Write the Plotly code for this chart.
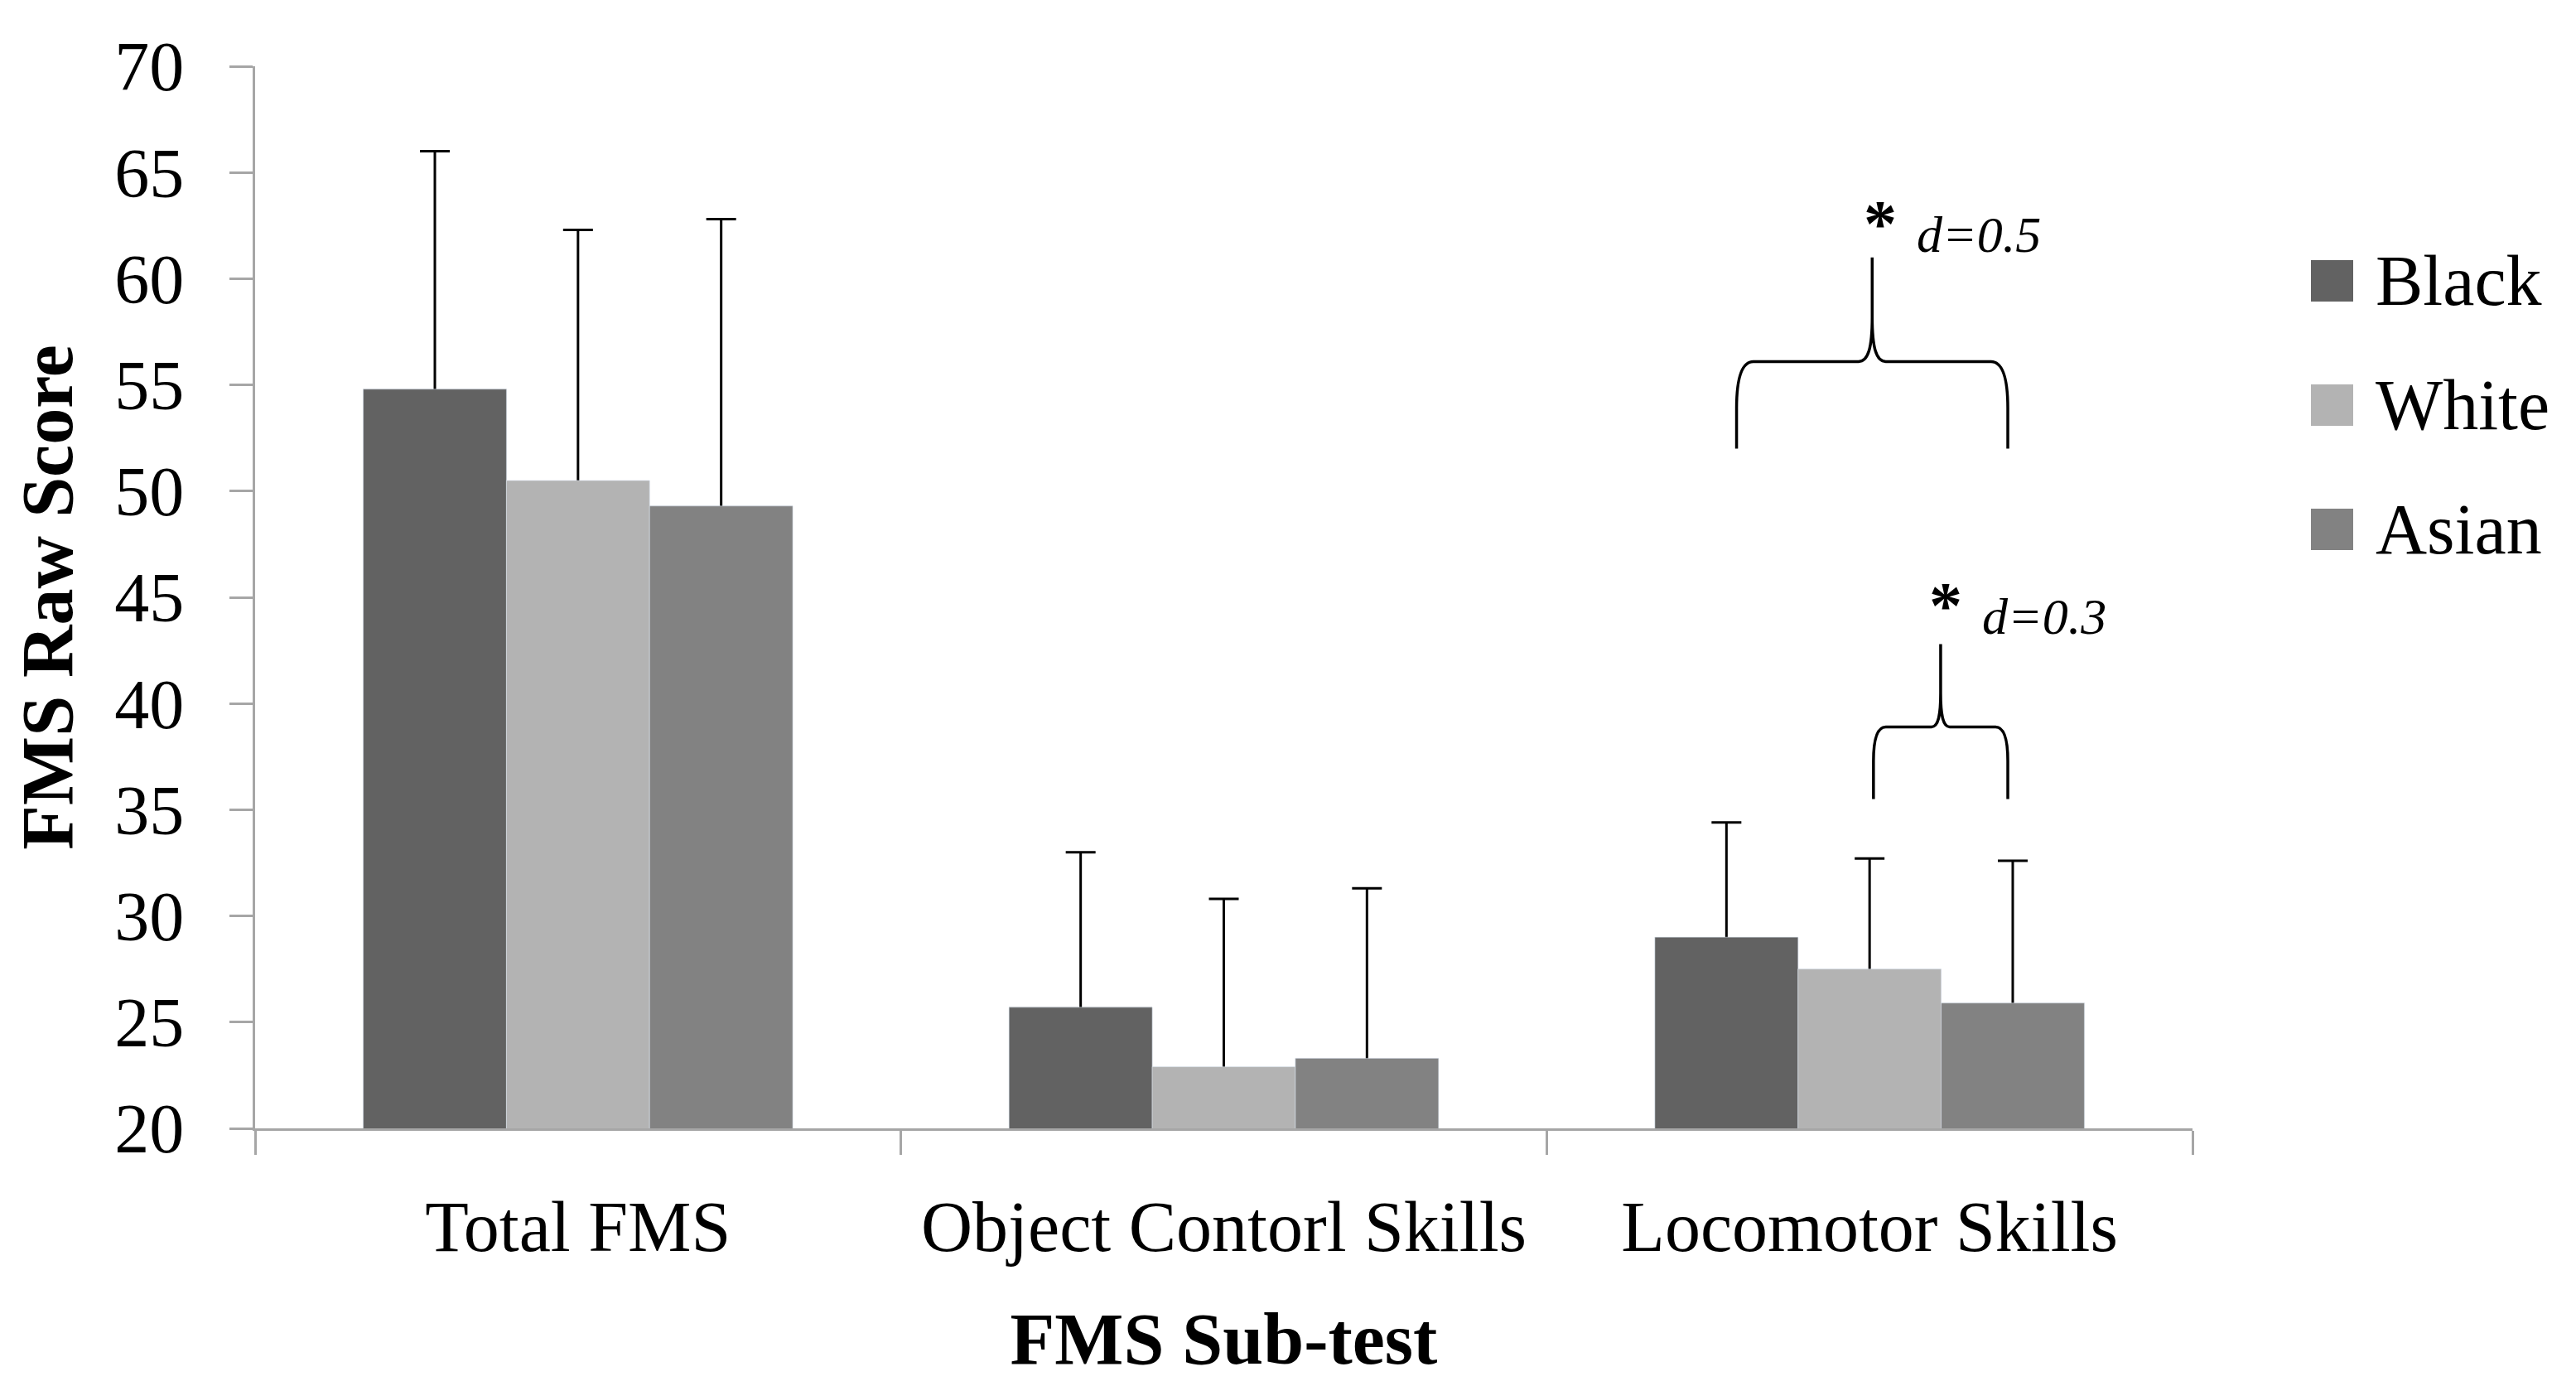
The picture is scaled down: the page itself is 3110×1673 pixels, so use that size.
import plotly.graph_objects as go

categories = ["Total FMS", "Object Contorl Skills", "Locomotor Skills"]
groups = ["Black", "White", "Asian"]
colors = ["#626262", "#b3b3b3", "#828282"]

black_mean = [54.8, 25.7, 29.0]
white_mean = [50.5, 22.9, 27.5]
asian_mean = [49.3, 23.3, 25.9]
black_sd = [11.2, 7.3, 5.4]
white_sd = [11.8, 7.9, 5.2]
asian_sd = [13.5, 8.0, 6.7]

means = [black_mean, white_mean, asian_mean]
sds = [black_sd, white_sd, asian_sd]

FONT = "Liberation Serif"
# page body has an 8px margin, so the figure is a bit smaller than the window
OFF = 8
W, H = 3094, 1657
PX0, PX1, PY0, PY1 = 308, 2647, 80, 1362  # plot area in window pixels
L, T = PX0 - OFF, PY0 - OFF
R, B = W - (PX1 - OFF), H - (PY1 - OFF)

fig = go.Figure()

# bars with upward error bars on the lower subplot; the same bars are drawn again
# on an overlaying axis so the lower half of each error bar is hidden
for name, col, m, s in zip(groups, colors, means, sds):
    fig.add_trace(go.Bar(
        x=categories, y=m, name=name, marker_color=col, showlegend=False,
        error_y=dict(type="data", symmetric=False, array=s,
                     arrayminus=[1] * len(s), color="black",
                     thickness=3, width=18),
    ))
for name, col, m in zip(groups, colors, means):
    fig.add_trace(go.Bar(
        x=categories, y=m, name=name, marker_color=col, showlegend=False,
        yaxis="y2", hoverinfo="skip",
    ))


def px2paper(xp, yp):
    return (xp - PX0) / (PX1 - PX0), (PY1 - yp) / (PY1 - PY0)


def brace(xl, xr, yb, yh, yt, cdx, cdy, kdx, kdy):
    xc = (xl + xr) / 2
    return (
        f"M{xl},{yb} L{xl},{yh - cdy} "
        f"C{xl},{yh - cdy * 0.35} {xl + cdx * 0.3},{yh} {xl + cdx},{yh} "
        f"L{xc - kdx},{yh} "
        f"C{xc - kdx * 0.3},{yh} {xc},{yh + kdy * 0.3} {xc},{yh + kdy} "
        f"L{xc},{yt} M{xc},{yh + kdy} "
        f"C{xc},{yh + kdy * 0.3} {xc + kdx * 0.3},{yh} {xc + kdx},{yh} "
        f"L{xr - cdx},{yh} "
        f"C{xr - cdx * 0.3},{yh} {xr},{yh - cdy * 0.35} {xr},{yh - cdy} "
        f"L{xr},{yb}"
    )


shapes = [
    dict(type="path", xref="x", yref="y",
         path=brace(2 - 0.206, 2 + 0.214, 52.0, 56.1, 61.0, 0.026, 2.2, 0.021, 2.1),
         line=dict(color="black", width=3.5)),
    dict(type="path", xref="x", yref="y",
         path=brace(2 + 0.006, 2 + 0.214, 35.5, 38.9, 42.8, 0.019, 1.6, 0.014, 1.6),
         line=dict(color="black", width=3.5)),
]

annotations = [
    dict(x=2 + 0.016, y=62.6, xref="x", yref="y", text="<b>*</b>", showarrow=False,
         font=dict(family=FONT, size=80, color="black")),
    dict(x=2 + 0.070, y=62.1, xref="x", yref="y", text="<i>d=0.5</i>",
         showarrow=False, xanchor="left",
         font=dict(family=FONT, size=62, color="black")),
    dict(x=2 + 0.118, y=44.6, xref="x", yref="y", text="<b>*</b>", showarrow=False,
         font=dict(family=FONT, size=80, color="black")),
    dict(x=2 + 0.172, y=44.1, xref="x", yref="y", text="<i>d=0.3</i>",
         showarrow=False, xanchor="left",
         font=dict(family=FONT, size=62, color="black")),
]

# legend drawn by hand so the swatches can be large
for i, (name, col) in enumerate(zip(groups, colors)):
    yc = 339 + i * 150
    x0, y0 = px2paper(2790, yc + 25)
    x1, y1 = px2paper(2841, yc - 25)
    shapes.append(dict(type="rect", xref="paper", yref="paper",
                       x0=x0, x1=x1, y0=y0, y1=y1,
                       fillcolor=col, line=dict(width=0)))
    tx, ty = px2paper(2866, yc)
    annotations.append(dict(x=tx, y=ty, xref="paper", yref="paper", text=name,
                            showarrow=False, xanchor="left", yanchor="middle",
                            font=dict(family=FONT, size=86, color="black")))

fig.update_layout(
    width=W, height=H,
    margin=dict(l=L, r=R, t=T, b=B, autoexpand=False),
    paper_bgcolor="white", plot_bgcolor="white",
    barmode="group", bargap=0.335, bargroupgap=0,
    font=dict(family=FONT, size=84, color="black"),
    showlegend=False,
    shapes=shapes, annotations=annotations,
    xaxis=dict(
        type="category", tickson="boundaries", ticks="outside", ticklen=29,
        tickwidth=3, tickcolor="#a6a6a6", showline=True, linecolor="#a6a6a6",
        linewidth=3, showgrid=False, ticklabelstandoff=42, automargin=False,
        tickfont=dict(family=FONT, size=86, color="black"),
        title=dict(text="<b>FMS Sub-test</b>", standoff=58,
                   font=dict(family=FONT, size=88, color="black")),
    ),
    yaxis=dict(
        range=[20, 70], dtick=5, ticks="outside", ticklen=28, tickwidth=3,
        tickcolor="#a6a6a6", showline=True, linecolor="#a6a6a6", linewidth=3,
        showgrid=False, zeroline=False, ticklabelstandoff=38, automargin=False,
        tickfont=dict(family=FONT, size=84, color="black"),
        title=dict(text="<b>FMS Raw Score</b>", standoff=22,
                   font=dict(family=FONT, size=88, color="black")),
    ),
    yaxis2=dict(range=[20, 70], overlaying="y", visible=False),
)

fig.write_html("out.html")
